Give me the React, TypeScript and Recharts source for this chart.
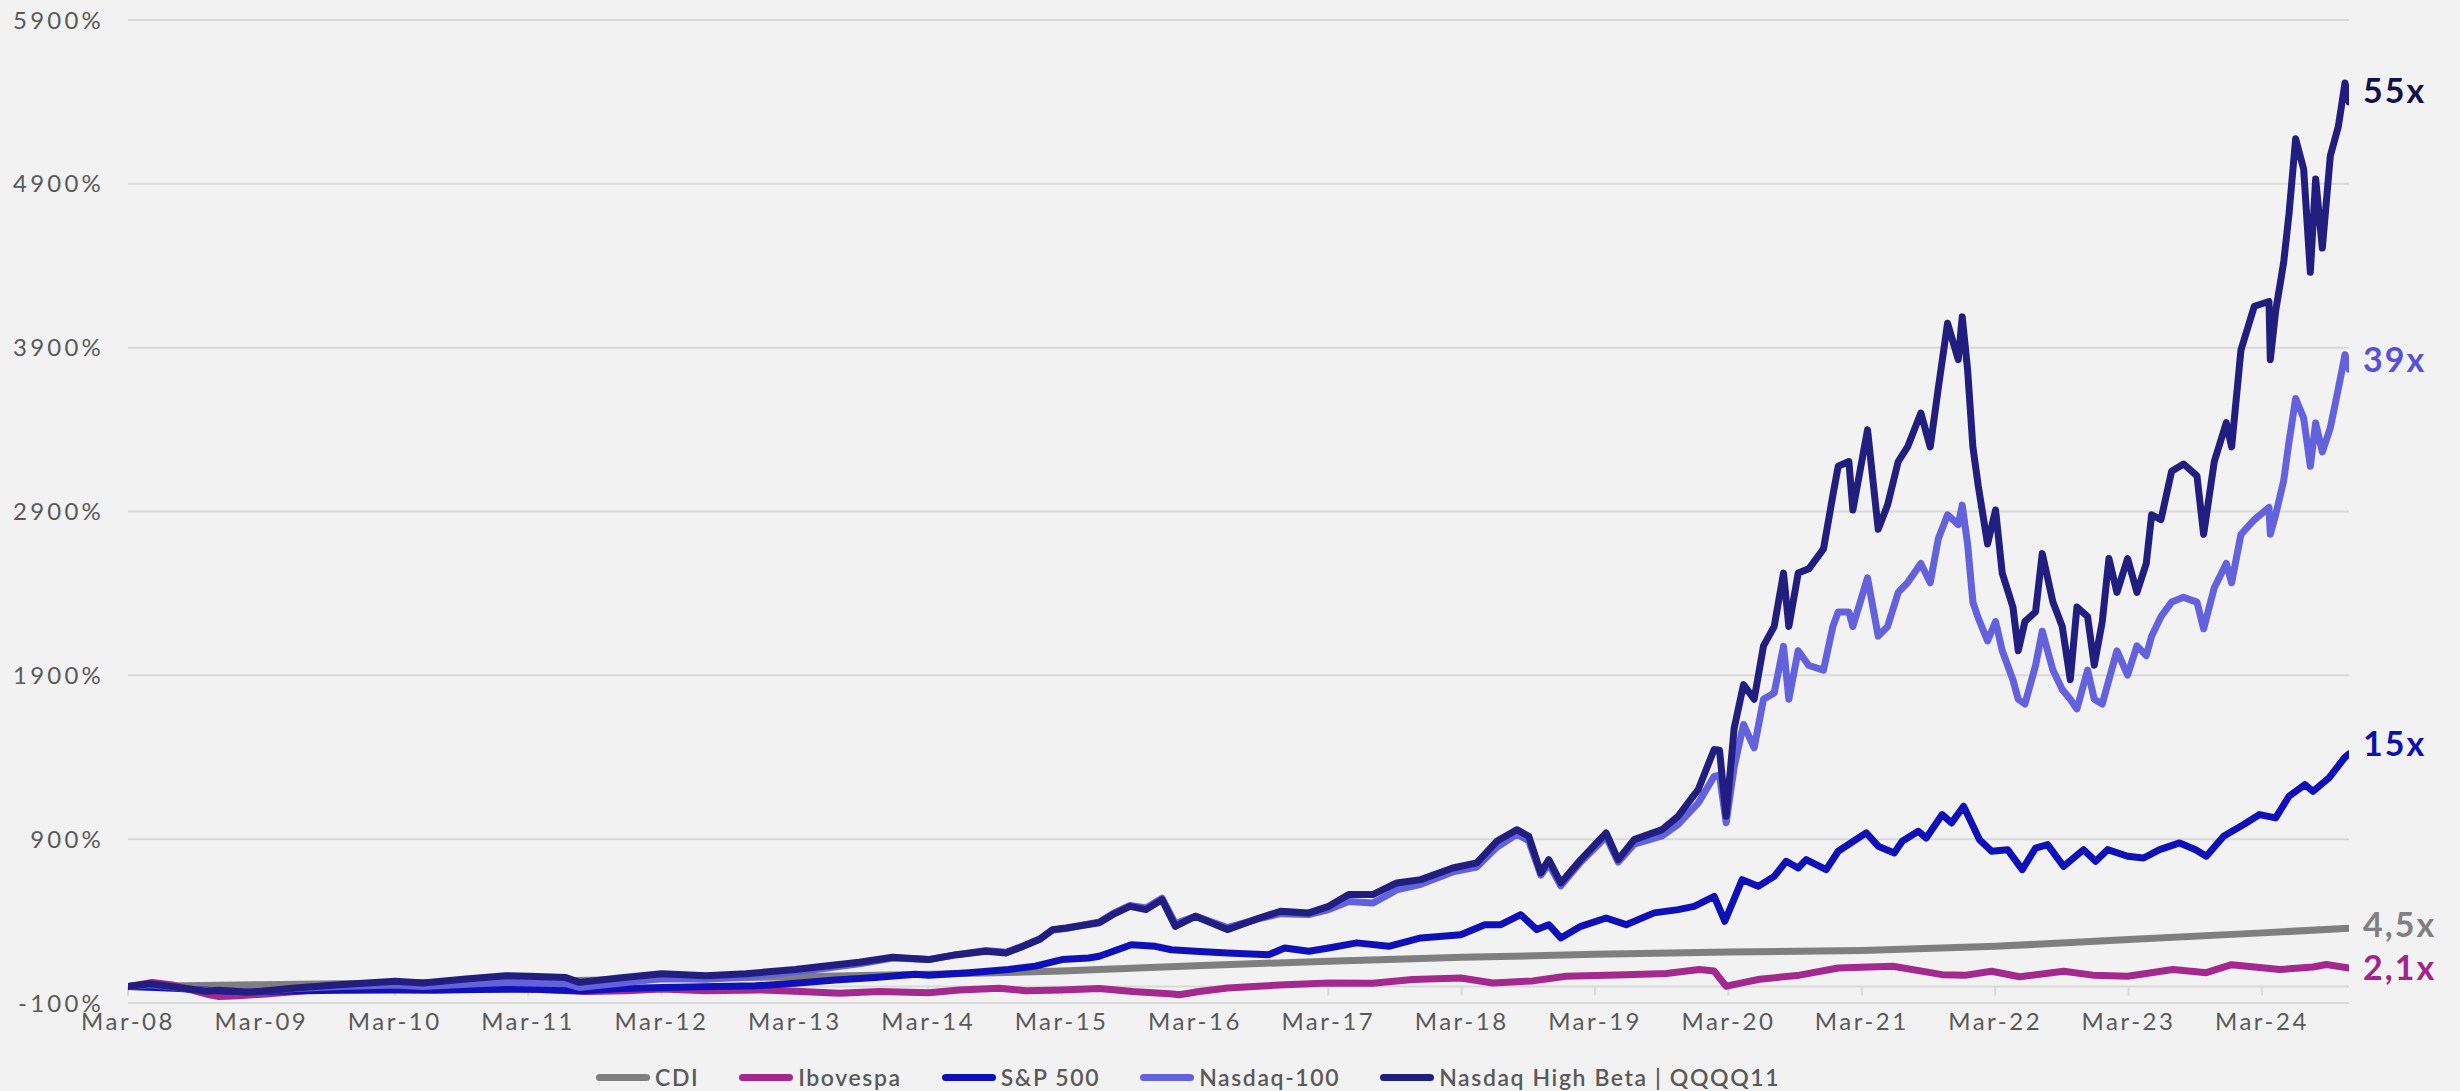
import React from 'react';
import { LineChart, Line, XAxis, YAxis, CartesianGrid, ReferenceLine, LabelList } from 'recharts';

// ---------- categories / ticks ----------
const xTickLabels = ['Mar-08', 'Mar-09', 'Mar-10', 'Mar-11', 'Mar-12', 'Mar-13', 'Mar-14', 'Mar-15', 'Mar-16', 'Mar-17', 'Mar-18', 'Mar-19', 'Mar-20', 'Mar-21', 'Mar-22', 'Mar-23', 'Mar-24'];
const xTicks = [2008.167, 2009.167, 2010.167, 2011.167, 2012.167, 2013.167, 2014.167, 2015.167, 2016.167, 2017.167, 2018.167, 2019.167, 2020.167, 2021.167, 2022.167, 2023.167, 2024.167];
const yTicks = [-100, 900, 1900, 2900, 3900, 4900, 5900];
const xDomain = [2008.167, 2024.82];

// ---------- series names ----------
const seriesNames = ['CDI', 'Ibovespa', 'S&P 500', 'Nasdaq-100', 'Nasdaq High Beta | QQQQ11'];
const endLabels = ['4,5x', '2,1x', '15x', '39x', '55x'];

// ---------- CDI ----------
const cdiDates = [2008.167, 2009.17, 2010.17, 2011.17, 2012.17, 2013.17, 2014.17, 2015.17, 2015.45, 2016.17, 2017.17, 2018.17, 2019.17, 2020.17, 2021.17, 2022.17, 2023.17, 2024.17, 2024.82];
const cdiValues = [0, 12, 22, 33, 47, 60, 75, 95, 104, 128, 155, 179, 197, 212, 220, 246, 287, 328, 356];

// ---------- Ibovespa ----------
const iboDates = [2008.167, 2008.35, 2008.5, 2008.75, 2008.85, 2009.0, 2009.2, 2009.5, 2009.8, 2010.17, 2010.5, 2010.8, 2011.17, 2011.6, 2011.9, 2012.17, 2012.5, 2012.9, 2013.17, 2013.5, 2013.8, 2014.17, 2014.4, 2014.7, 2014.9, 2015.17, 2015.45, 2015.7, 2016.0, 2016.05, 2016.2, 2016.41, 2016.8, 2017.17, 2017.5, 2017.8, 2018.16, 2018.4, 2018.7, 2018.95, 2019.4, 2019.7, 2019.95, 2020.06, 2020.15, 2020.25, 2020.4, 2020.7, 2020.99, 2021.4, 2021.77, 2021.95, 2022.14, 2022.35, 2022.68, 2022.9, 2023.16, 2023.5, 2023.75, 2023.94, 2024.3, 2024.55, 2024.65, 2024.82];
const iboValues = [0, 25, 10, -45, -60, -55, -45, -25, -10, -10, -15, -5, -15, -30, -25, -15, -25, -20, -28, -40, -30, -38, -20, -10, -25, -20, -12, -30, -45, -50, -30, -8, 10, 22, 20, 43, 53, 22, 35, 63, 73, 80, 104, 95, 2, 20, 45, 70, 114, 124, 73, 70, 94, 60, 94, 70, 63, 104, 85, 134, 104, 120, 135, 114];

// ---------- S&P 500 ----------
const spxDates = [2008.167, 2008.37, 2008.55, 2008.72, 2008.97, 2009.17, 2009.47, 2009.77, 2010.17, 2010.47, 2010.77, 2011.17, 2011.57, 2011.87, 2012.17, 2012.57, 2012.87, 2013.17, 2013.47, 2013.77, 2014.07, 2014.17, 2014.47, 2014.77, 2014.97, 2015.17, 2015.37, 2015.45, 2015.69, 2015.87, 2015.99, 2016.17, 2016.41, 2016.72, 2016.84, 2017.02, 2017.17, 2017.38, 2017.62, 2017.86, 2018.16, 2018.34, 2018.46, 2018.61, 2018.73, 2018.82, 2018.91, 2019.06, 2019.25, 2019.4, 2019.61, 2019.79, 2019.91, 2020.06, 2020.14, 2020.27, 2020.39, 2020.51, 2020.6, 2020.69, 2020.75, 2020.9, 2020.99, 2021.2, 2021.29, 2021.41, 2021.47, 2021.59, 2021.65, 2021.77, 2021.84, 2021.93, 2022.05, 2022.14, 2022.26, 2022.37, 2022.47, 2022.56, 2022.68, 2022.83, 2022.92, 2023.01, 2023.16, 2023.28, 2023.4, 2023.55, 2023.67, 2023.75, 2023.88, 2024.03, 2024.15, 2024.27, 2024.37, 2024.49, 2024.55, 2024.67, 2024.79, 2024.82];
const spxValues = [0, -5, -12, -20, -30, -30, -25, -22, -20, -22, -18, -15, -25, -12, -5, 0, 5, 20, 40, 55, 75, 70, 85, 105, 125, 165, 175, 185, 256, 246, 225, 216, 205, 195, 236, 216, 236, 267, 246, 297, 317, 378, 378, 439, 348, 378, 297, 368, 419, 378, 450, 470, 490, 551, 399, 653, 612, 673, 765, 724, 775, 714, 826, 938, 857, 816, 887, 948, 907, 1050, 999, 1101, 897, 826, 836, 714, 846, 867, 734, 836, 765, 836, 796, 785, 836, 877, 836, 796, 918, 989, 1050, 1030, 1162, 1233, 1192, 1274, 1400, 1420];

// ---------- Nasdaq-100 and Nasdaq High Beta (shared dates) ----------
const nasdaqDates = [2008.167, 2008.33, 2008.5, 2008.75, 2008.85, 2009.06, 2009.17, 2009.42, 2009.75, 2010.17, 2010.38, 2010.7, 2011.0, 2011.17, 2011.45, 2011.55, 2011.85, 2012.17, 2012.5, 2012.8, 2013.17, 2013.38, 2013.65, 2013.9, 2014.17, 2014.38, 2014.6, 2014.75, 2014.88, 2015.0, 2015.1, 2015.2, 2015.45, 2015.55, 2015.68, 2015.8, 2015.92, 2016.02, 2016.17, 2016.41, 2016.65, 2016.81, 2017.02, 2017.17, 2017.32, 2017.5, 2017.68, 2017.86, 2018.1, 2018.28, 2018.43, 2018.58, 2018.67, 2018.76, 2018.82, 2018.91, 2019.06, 2019.25, 2019.34, 2019.46, 2019.67, 2019.79, 2019.94, 2020.06, 2020.1, 2020.15, 2020.21, 2020.28, 2020.36, 2020.43, 2020.51, 2020.58, 2020.62, 2020.69, 2020.77, 2020.88, 2020.95, 2020.99, 2021.07, 2021.1, 2021.21, 2021.29, 2021.36, 2021.44, 2021.51, 2021.61, 2021.68, 2021.74, 2021.81, 2021.89, 2021.92, 2021.96, 2022.0, 2022.04, 2022.11, 2022.17, 2022.22, 2022.3, 2022.34, 2022.39, 2022.47, 2022.52, 2022.6, 2022.67, 2022.73, 2022.78, 2022.86, 2022.91, 2022.97, 2023.02, 2023.08, 2023.16, 2023.23, 2023.3, 2023.34, 2023.41, 2023.49, 2023.58, 2023.68, 2023.73, 2023.81, 2023.9, 2023.94, 2024.01, 2024.11, 2024.22, 2024.23, 2024.27, 2024.33, 2024.37, 2024.42, 2024.48, 2024.53, 2024.57, 2024.62, 2024.68, 2024.74, 2024.79, 2024.82];
const ndxValues = [0, 12, -2, -25, -20, -32, -28, -12, 0, 10, 0, 15, 25, 22, 18, -5, 20, 50, 45, 60, 90, 110, 140, 175, 165, 195, 220, 210, 250, 290, 345, 355, 395, 445, 495, 480, 540, 385, 430, 360, 415, 445, 440, 470, 520, 510, 590, 625, 700, 730, 850, 930, 890, 680, 750, 615, 760, 915, 760, 870, 920, 990, 1120, 1283, 1290, 1000, 1340, 1600, 1458, 1754, 1792, 2077, 1754, 2050, 1960, 1932, 2198, 2287, 2287, 2198, 2495, 2139, 2198, 2406, 2465, 2583, 2465, 2732, 2880, 2820, 2939, 2702, 2347, 2250, 2110, 2228, 2050, 1873, 1754, 1725, 1960, 2169, 1932, 1814, 1754, 1695, 1932, 1754, 1725, 1873, 2050, 1902, 2080, 2020, 2139, 2258, 2347, 2376, 2347, 2184, 2435, 2583, 2465, 2761, 2850, 2924, 2761, 2880, 3087, 3324, 3590, 3470, 3176, 3440, 3264, 3410, 3650, 3857, 3768];
const qqqqValues = [0, 18, 0, -28, -22, -35, -28, -8, 12, 33, 22, 47, 67, 63, 55, 26, 53, 79, 67, 79, 104, 124, 149, 179, 165, 195, 216, 205, 246, 287, 348, 358, 390, 439, 490, 470, 531, 368, 429, 348, 419, 460, 450, 490, 562, 562, 633, 653, 724, 755, 887, 958, 917, 694, 775, 633, 775, 938, 775, 897, 958, 1040, 1202, 1447, 1443, 1040, 1577, 1843, 1754, 2080, 2198, 2524, 2198, 2524, 2550, 2672, 2998, 3176, 3205, 2909, 3398, 2791, 2939, 3205, 3294, 3501, 3294, 3650, 4049, 3827, 4088, 3768, 3294, 3057, 2702, 2909, 2524, 2317, 2050, 2228, 2288, 2643, 2347, 2198, 1873, 2317, 2258, 1962, 2228, 2613, 2406, 2613, 2406, 2583, 2880, 2850, 3146, 3190, 3117, 2761, 3205, 3442, 3294, 3886, 4153, 4182, 3827, 4123, 4419, 4715, 5175, 4990, 4360, 4930, 4508, 5071, 5250, 5515, 5400];

// ---------- colours ----------
const lineColors = ['#7f7f7f', '#a3298e', '#1010b9', '#6461dc', '#211e7f'];
const labelColors = ['#808080', '#a0268c', '#1010b0', '#5552d8', '#12114e'];
const labelDy = [-5, -1, -11, -11, -12];

const toPoints = (dates: number[], values: number[]) => dates.map((d, i) => ({ x: d, y: values[i] }));

const seriesData = [
  toPoints(cdiDates, cdiValues),
  toPoints(iboDates, iboValues),
  toPoints(spxDates, spxValues),
  toPoints(nasdaqDates, ndxValues),
  toPoints(nasdaqDates, qqqqValues),
];

const FONT = 'Lato, "Open Sans", sans-serif';

const makeEndLabel = (idx: number) => (props: any) => {
  const { x, y, index } = props;
  if (index !== seriesData[idx].length - 1) return null;
  return (
    <text
      x={x + 14}
      y={y + labelDy[idx]}
      fill={labelColors[idx]}
      fontSize={34}
      fontWeight={700}
      fontFamily={FONT}
      letterSpacing={2}
      dominantBaseline="central"
    >
      {endLabels[idx]}
    </text>
  );
};

export default function App() {
  return (
    <div style={{ position: 'absolute', left: 0, top: 0, width: 2460, height: 1091, background: '#f2f2f2', overflow: 'hidden' }}>
      <LineChart width={2460} height={1091} margin={{ top: 20, right: 111, left: 18, bottom: 48 }}>
        <CartesianGrid horizontal={true} vertical={false} stroke="#d9d9d9" strokeWidth={2} />
        <XAxis
          type="number"
          dataKey="x"
          domain={xDomain}
          ticks={xTicks}
          allowDataOverflow
          axisLine={false}
          tickLine={false}
          tickSize={0}
          tickMargin={10}
          height={40}
          interval={0}
          tickFormatter={(v: number) => xTickLabels[xTicks.indexOf(v)] ?? ''}
          tick={{ fill: '#595959', fontSize: 24, fontFamily: FONT, letterSpacing: 2.5 }}
        />
        <YAxis
          type="number"
          domain={[-100, 5900]}
          ticks={yTicks}
          axisLine={false}
          tickLine={false}
          tickSize={0}
          tickMargin={24}
          width={110}
          interval={0}
          tickFormatter={(v: number) => `${v}%`}
          tick={{ fill: '#595959', fontSize: 24, fontFamily: FONT, letterSpacing: 3.2 }}
        />
        <ReferenceLine y={0} stroke="#d9d9d9" strokeWidth={2} />
        {xTicks.map((t) => (
          <ReferenceLine
            key={'tk' + t}
            segment={[{ x: t, y: 0 }, { x: t, y: -55 }]}
            stroke="#d9d9d9"
            strokeWidth={2}
          />
        ))}
        {seriesData.map((d, i) => (
          <Line
            key={seriesNames[i]}
            data={d}
            dataKey="y"
            name={seriesNames[i]}
            type="linear"
            stroke={lineColors[i]}
            strokeWidth={7}
            strokeLinejoin="round"
            strokeLinecap="round"
            dot={false}
            activeDot={false}
            isAnimationActive={false}
          >
            <LabelList dataKey="y" content={makeEndLabel(i)} />
          </Line>
        ))}
      </LineChart>
      <div
        style={{
          position: 'absolute',
          left: 596,
          top: 1063,
          display: 'flex',
          alignItems: 'center',
          fontFamily: FONT,
          fontSize: 23,
          fontWeight: 600,
          letterSpacing: 1.6,
          color: '#595959',
          whiteSpace: 'nowrap',
        }}
      >
        {seriesNames.map((n, i) => (
          <div key={n} style={{ display: 'flex', alignItems: 'center', marginRight: 40 }}>
            <span style={{ display: 'inline-block', width: 54, height: 7, borderRadius: 4, background: lineColors[i], marginRight: 5 }} />
            <span>{n}</span>
          </div>
        ))}
      </div>
    </div>
  );
}
